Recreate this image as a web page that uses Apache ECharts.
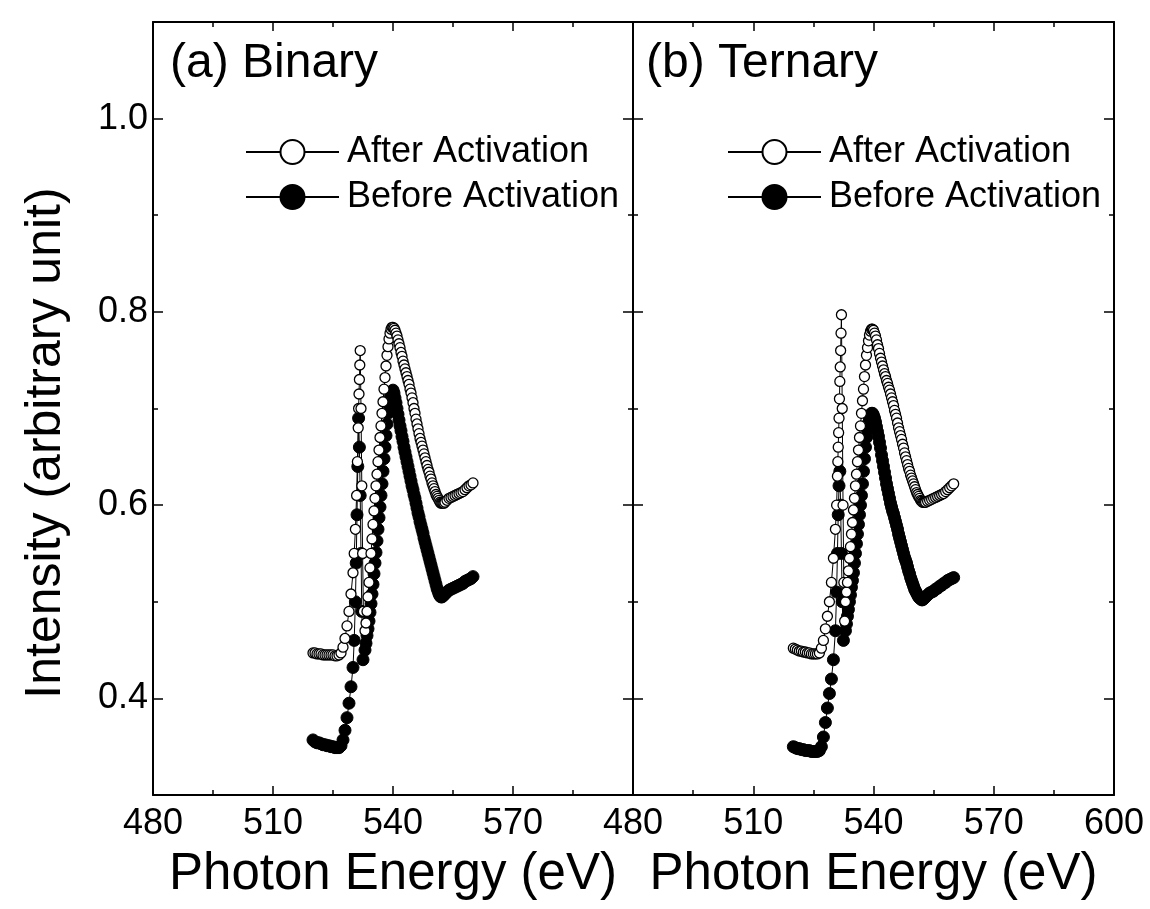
<!DOCTYPE html>
<html>
<head>
<meta charset="utf-8">
<script src="https://cdn.jsdelivr.net/npm/echarts@6/dist/echarts.min.js"></script>
<style>
  html, body { margin: 0; padding: 0; background: #fff; }
  #chart { width: 1150px; height: 909px; }
</style>
</head>
<body>
<div id="chart"></div>
<script>
// ---------- data ----------
const panelTitles = ['(a) Binary', '(b) Ternary'];
const seriesNames = ['After Activation', 'Before Activation'];
const xTitle = 'Photon Energy (eV)';
const yTitle = 'Intensity (arbitrary unit)';
const xMin = 480, xMax = 600, xStep = 30;
const yMin = 0.3, yMax = 1.1;
const yTickLabels = [0.4, 0.6, 0.8, 1.0];

const binaryAfter = [
  [520,.447],[520.5,.447],[521,.446],[521.5,.446],[522,.446],[522.5,.445],[523,.445],[523.5,.445],[524,.445],[524.5,.445],
  [525,.445],[525.5,.444],[526,.444],[526.5,.445],[527,.447],[527.5,.453],[528,.462],[528.5,.475],[529,.49],[529.5,.508],
  [530,.53],[530.3,.55],[530.6,.575],[530.9,.61],[531.1,.645],[531.3,.68],[531.4,.70],[531.5,.715],[531.6,.73],[531.7,.745],
  [531.8,.76],[532.0,.70],[532.2,.62],[532.4,.55],[532.6,.49],
  [533,.47],[533.25,.478],[533.5,.49],[533.75,.505],[534,.52],[534.25,.535],[534.5,.55],[534.75,.565],[535,.58],[535.25,.594],
  [535.5,.607],[535.75,.62],[536,.632],[536.25,.645],[536.5,.657],[536.75,.67],[537,.682],[537.25,.695],[537.5,.707],[537.75,.72],
  [538,.732],[538.25,.744],[538.5,.755],[538.75,.764],[539,.772],[539.25,.778],[539.5,.782],[539.75,.784],[540,.784],[540.25,.783],
  [540.5,.781],[540.75,.778],[541,.775],[541.25,.771],[541.5,.767],[541.75,.763],[542,.758],[542.25,.754],[542.5,.749],[542.75,.745],
  [543,.741],[543.25,.737],[543.5,.733],[543.75,.729],[544,.725],[544.25,.72],[544.5,.716],[544.75,.711],[545,.706],[545.25,.70],
  [545.5,.695],[545.75,.689],[546,.684],[546.25,.679],[546.5,.674],[546.75,.669],[547,.665],[547.25,.661],[547.5,.657],[547.75,.653],
  [548,.649],[548.25,.645],[548.5,.641],[548.75,.637],[549,.634],[549.25,.63],[549.5,.627],[549.75,.623],[550,.62],[550.25,.617],
  [550.5,.614],[550.75,.611],[551,.609],[551.25,.607],[551.5,.605],[551.75,.603],[552,.602],[552.25,.602],[552.5,.602],[552.75,.602],
  [553,.603],[553.5,.605],[554,.607],[554.5,.608],[555,.609],
  [555.5,.61],[556,.611],[556.5,.612],[557,.613],[557.5,.614],[558,.616],[558.5,.618],[559,.62],[559.5,.621],[560,.623]
];
const binaryBefore = [
  [520,.357],[520.5,.355],[521,.354],[521.5,.354],[522,.353],[522.5,.352],[523,.352],[523.5,.351],[524,.351],[524.5,.350],
  [525,.350],[525.5,.349],[526,.349],[526.5,.349],[527,.351],[527.5,.357],[528,.367],[528.5,.380],[529,.395],[529.5,.412],
  [530,.432],[530.3,.46],[530.6,.50],[530.8,.54],[531.0,.59],[531.2,.64],[531.4,.69],[531.6,.66],[531.8,.61],[532.0,.55],
  [532.2,.49],[532.5,.44],
  [533,.45],[533.25,.457],[533.5,.465],[533.75,.472],[534,.48],[534.25,.489],[534.5,.498],[534.75,.508],[535,.518],[535.25,.529],
  [535.5,.54],[535.75,.551],[536,.563],[536.25,.575],[536.5,.587],[536.75,.598],[537,.61],[537.25,.622],[537.5,.635],[537.75,.648],
  [538,.66],[538.25,.672],[538.5,.684],[538.75,.695],[539,.704],[539.25,.711],[539.5,.716],[539.75,.718],[540,.719],[540.25,.716],
  [540.5,.711],[540.75,.706],[541,.70],[541.25,.694],[541.5,.688],[541.75,.682],[542,.677],[542.25,.671],[542.5,.666],[542.75,.66],
  [543,.655],[543.25,.65],[543.5,.645],[543.75,.64],[544,.635],[544.25,.63],[544.5,.625],[544.75,.62],[545,.616],[545.25,.611],
  [545.5,.607],[545.75,.602],[546,.597],[546.25,.592],[546.5,.588],[546.75,.583],[547,.579],[547.25,.575],[547.5,.571],[547.75,.566],
  [548,.562],[548.25,.558],[548.5,.554],[548.75,.55],[549,.546],[549.25,.542],[549.5,.538],[549.75,.534],[550,.53],[550.25,.526],
  [550.5,.522],[550.75,.518],[551,.514],[551.25,.511],[551.5,.508],[551.75,.506],[552,.505],[552.25,.505],[552.5,.506],[552.75,.507],
  [553,.508],[553.5,.510],[554,.512],[554.5,.513],[555,.514],[555.5,.515],[556,.516],[556.5,.517],
  [557,.518],[557.5,.519],[558,.521],[558.5,.522],[559,.523],[559.5,.524],[560,.526]
];
const ternaryAfter = [
  [520,.452],[520.5,.451],[521,.450],[521.5,.449],[522,.449],[522.5,.448],[523,.448],[523.5,.447],[524,.447],[524.5,.446],
  [525,.446],[525.5,.446],[526,.446],[526.5,.447],[527,.452],[527.5,.46],[528,.472],[528.5,.485],[529,.50],[529.5,.52],
  [530,.545],[530.5,.575],[530.8,.60],[531.0,.63],[531.1,.645],[531.2,.66],[531.3,.675],[531.4,.69],[531.5,.71],[531.6,.728],
  [531.7,.743],[531.8,.76],[531.9,.778],[532.0,.797],[532.2,.70],[532.4,.60],[532.6,.52],[532.8,.48],
  [533,.50],[533.25,.51],[533.5,.52],[533.75,.532],[534,.545],[534.25,.557],[534.5,.57],[534.75,.582],[535,.595],[535.25,.607],
  [535.5,.62],[535.75,.632],[536,.645],[536.25,.657],[536.5,.67],[536.75,.682],[537,.695],[537.25,.708],[537.5,.72],[537.75,.733],
  [538,.745],[538.25,.755],[538.5,.763],[538.75,.77],[539,.776],[539.25,.78],[539.5,.782],[539.75,.782],[540,.781],[540.25,.778],
  [540.5,.775],[540.75,.771],[541,.766],[541.25,.762],[541.5,.757],[541.75,.752],[542,.748],[542.25,.744],[542.5,.74],[542.75,.736],
  [543,.733],[543.25,.729],[543.5,.726],[543.75,.722],[544,.719],[544.25,.715],[544.5,.711],[544.75,.707],[545,.703],[545.25,.698],
  [545.5,.694],[545.75,.69],[546,.685],[546.25,.68],[546.5,.676],[546.75,.672],[547,.668],[547.25,.663],[547.5,.659],[547.75,.654],
  [548,.65],[548.25,.646],[548.5,.642],[548.75,.638],[549,.635],[549.25,.631],[549.5,.628],[549.75,.625],[550,.622],[550.25,.619],
  [550.5,.616],[550.75,.613],[551,.611],[551.25,.609],[551.5,.607],[551.75,.605],[552,.604],[552.25,.603],[552.5,.603],[552.75,.603],
  [553,.603],[553.5,.604],[554,.605],[554.5,.606],[555,.607],[555.5,.608],[556,.609],[556.5,.61],[557,.611],[557.5,.612],
  [558,.614],[558.5,.616],[559,.618],[559.5,.62],[560,.622]
];
const ternaryBefore = [
  [520,.350],[520.5,.349],[521,.348],[521.5,.348],[522,.347],[522.5,.347],[523,.346],[523.5,.346],[524,.346],[524.5,.345],
  [525,.345],[525.5,.345],[526,.345],[526.5,.346],[527,.350],[527.5,.36],[528,.375],[528.5,.39],[529,.405],[529.5,.42],
  [530,.44],[530.5,.47],[530.8,.51],[531.0,.55],[531.2,.59],[531.4,.62],[531.6,.635],[531.8,.60],[532.0,.55],[532.2,.50],
  [532.5,.46],
  [533,.47],[533.25,.477],[533.5,.485],[533.75,.492],[534,.50],[534.25,.507],[534.5,.515],[534.75,.522],[535,.53],[535.25,.54],
  [535.5,.55],[535.75,.56],[536,.57],[536.25,.58],[536.5,.59],[536.75,.60],[537,.61],[537.25,.622],[537.5,.635],[537.75,.648],
  [538,.66],[538.25,.67],[538.5,.678],[538.75,.685],[539,.69],[539.25,.693],[539.5,.695],[539.75,.695],[540,.693],[540.25,.69],
  [540.5,.686],[540.75,.681],[541,.676],[541.25,.671],[541.5,.665],[541.75,.659],[542,.652],[542.25,.646],[542.5,.64],[542.75,.634],
  [543,.628],[543.25,.622],[543.5,.617],[543.75,.612],[544,.607],[544.25,.602],[544.5,.598],[544.75,.594],[545,.591],[545.25,.587],
  [545.5,.583],[545.75,.579],[546,.575],[546.25,.57],[546.5,.566],[546.75,.562],[547,.558],[547.25,.554],[547.5,.55],[547.75,.546],
  [548,.543],[548.25,.54],[548.5,.536],[548.75,.532],[549,.529],[549.25,.525],[549.5,.522],[549.75,.519],[550,.516],[550.25,.513],
  [550.5,.511],[550.75,.509],[551,.507],[551.25,.505],[551.5,.504],[551.75,.503],[552,.502],[552.25,.502],[552.5,.503],[552.75,.504],
  [553,.505],[553.5,.507],[554,.509],[554.5,.51],[555,.511],[555.5,.513],[556,.514],[556.5,.516],[557,.517],
  [557.5,.519],[558,.52],[558.5,.522],[559,.523],[559.5,.524],[560,.525]
];

// ---------- chart ----------
const FONT = '"Liberation Sans", Arial, Helvetica, sans-serif';
const BLACK = '#000';
const chart = echarts.init(document.getElementById('chart'), null, { renderer: 'canvas' });

const grids = [
  { left: 153, right: 517, top: 22, bottom: 114 },
  { left: 633, right: 36, top: 22, bottom: 114 }
];

function xAxes(gi, showMaxLabel) {
  const base = {
    type: 'value', gridIndex: gi, min: xMin, max: xMax, interval: xStep,
    axisLine: { show: true, onZero: false, lineStyle: { color: BLACK, width: 2 } },
    axisTick: { show: true, inside: true, length: 9, lineStyle: { color: BLACK, width: 1.5 } },
    minorTick: { show: true, splitNumber: 2, length: 5, lineStyle: { color: BLACK, width: 1.5 } },
    splitLine: { show: false }, minorSplitLine: { show: false }
  };
  return [
    Object.assign({}, base, {
      position: 'bottom',
      axisLabel: { show: true, fontSize: 36, color: BLACK, fontFamily: FONT, margin: 11, showMaxLabel: showMaxLabel, showMinLabel: true },
      name: xTitle, nameLocation: 'middle', nameGap: 54,
      nameTextStyle: { fontSize: 51, color: BLACK, fontFamily: FONT }
    }),
    Object.assign({}, base, { position: 'top', axisLabel: { show: false } })
  ];
}

function yAxes(gi, showLabels) {
  const major = {
    type: 'value', gridIndex: gi, min: yMin, max: yMax, interval: 0.1,
    axisLine: { show: true, onZero: false, lineStyle: { color: BLACK, width: 2 } },
    axisTick: { show: true, inside: true, length: 10, customValues: yTickLabels, lineStyle: { color: BLACK, width: 1.5 } },
    splitLine: { show: false }
  };
  const minor = {
    type: 'value', gridIndex: gi, min: yMin, max: yMax, interval: 0.1,
    axisLine: { show: false },
    axisTick: { show: true, inside: true, length: 5, lineStyle: { color: BLACK, width: 1.5 } },
    axisLabel: { show: false },
    splitLine: { show: false }
  };
  return [
    Object.assign({}, major, {
      position: 'left',
      axisLabel: {
        show: showLabels, customValues: yTickLabels, fontSize: 36, color: BLACK, fontFamily: FONT, margin: 5,
        formatter: v => Number(v).toFixed(1)
      }
    }),
    Object.assign({}, minor, { position: 'left' }),
    Object.assign({}, major, { position: 'right', axisLabel: { show: false } }),
    Object.assign({}, minor, { position: 'right' })
  ];
}

function makeSeries(name, data, xi, yi, filled) {
  return {
    type: 'line', name: name, data: data, xAxisIndex: xi, yAxisIndex: yi,
    symbol: 'circle', symbolSize: filled ? 12 : 10, showAllSymbol: true,
    lineStyle: { color: BLACK, width: 1 },
    itemStyle: filled ? { color: BLACK, borderColor: BLACK, borderWidth: 1 }
                      : { color: '#fff', borderColor: BLACK, borderWidth: 1.3 },
    z: filled ? 2 : 3,
    animation: false, silent: true
  };
}

function legendFor(left) {
  return {
    show: true, left: left, top: 129, orient: 'vertical', align: 'left',
    itemWidth: 93, itemHeight: 30, itemGap: 9, selectedMode: false,
    textStyle: { fontSize: 36, color: BLACK, fontFamily: FONT, lineHeight: 30, padding: [0, 0, 0, 3] },
    data: seriesNames
  };
}

const option = {
  backgroundColor: '#fff',
  animation: false,
  grid: grids,
  title: [
    { text: panelTitles[0], left: 165, top: 35, textStyle: { fontSize: 48, fontWeight: 'normal', color: BLACK, fontFamily: FONT } },
    { text: panelTitles[1], left: 641, top: 35, textStyle: { fontSize: 48, fontWeight: 'normal', color: BLACK, fontFamily: FONT } }
  ],
  legend: [legendFor(240), legendFor(722)],
  xAxis: [].concat(xAxes(0, false), xAxes(1, true)),
  yAxis: [].concat(yAxes(0, true), yAxes(1, false)),
  graphic: [{
    type: 'text', x: 46, y: 443, rotation: Math.PI / 2,
    style: { text: yTitle, fontSize: 50, fontFamily: FONT, fill: BLACK, align: 'center', verticalAlign: 'middle' }
  }],
  series: [
    makeSeries(seriesNames[1], binaryBefore, 0, 0, true),
    makeSeries(seriesNames[0], binaryAfter, 0, 0, false),
    makeSeries(seriesNames[1], ternaryBefore, 2, 4, true),
    makeSeries(seriesNames[0], ternaryAfter, 2, 4, false)
  ]
};
chart.setOption(option);
</script>
</body>
</html>
